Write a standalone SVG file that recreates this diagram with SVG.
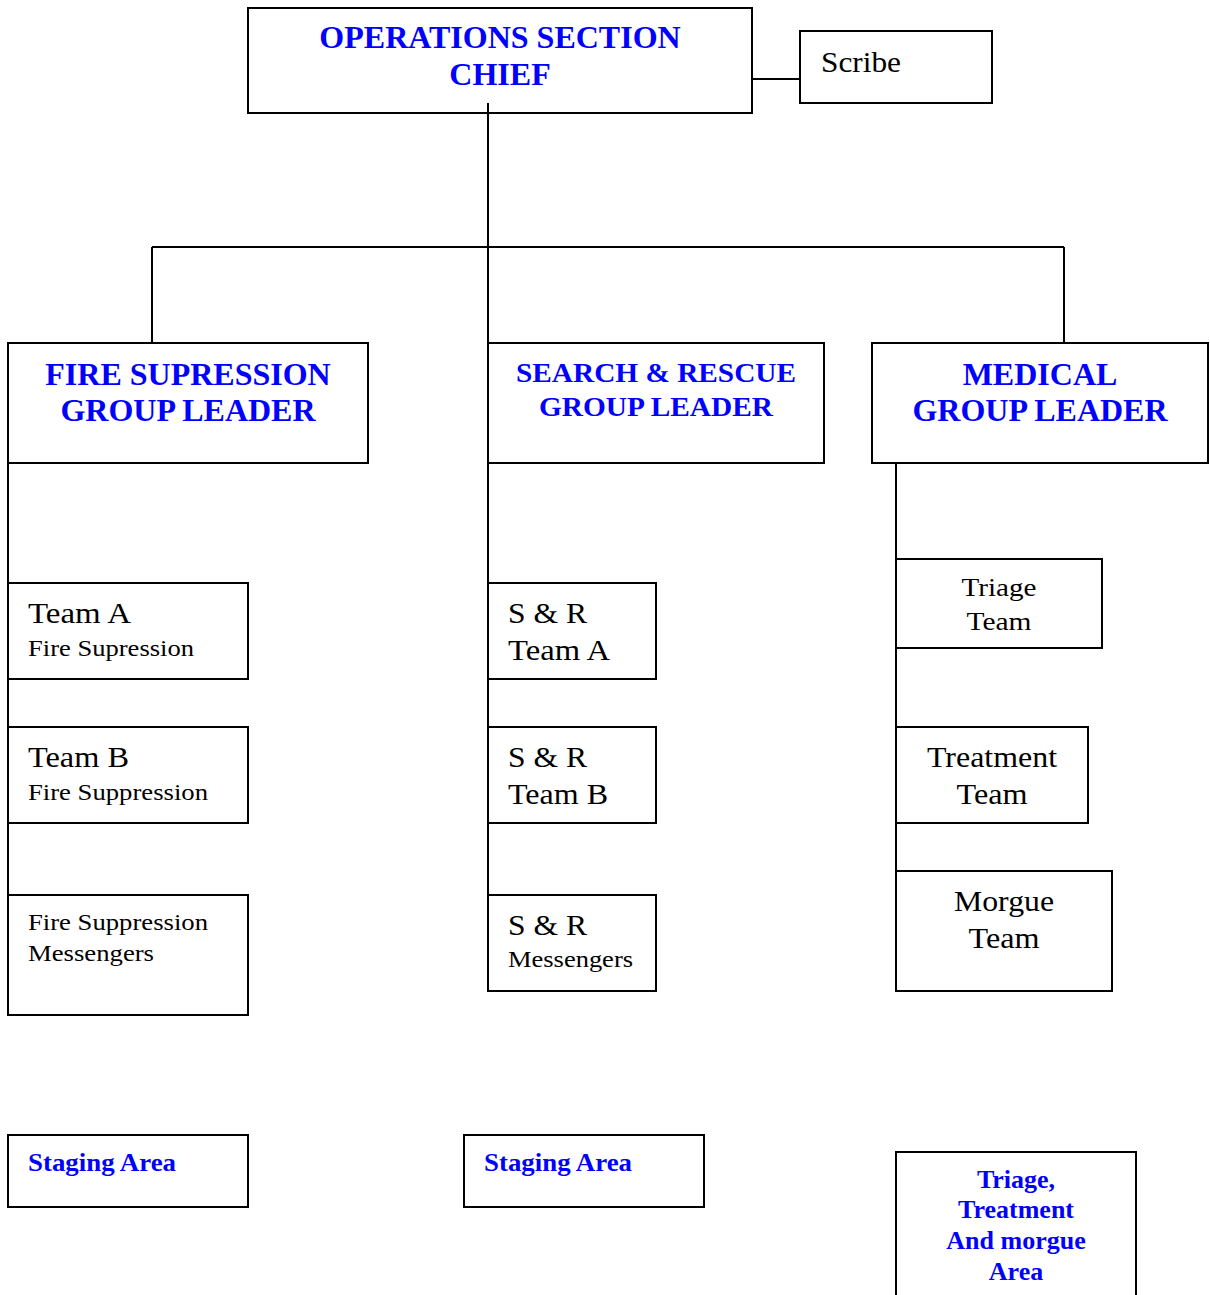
<svg xmlns="http://www.w3.org/2000/svg" width="1210" height="1295" viewBox="0 0 1210 1295">
<style>
.box{fill:#fff;stroke:#000;stroke-width:2}
.ln{stroke:#000;stroke-width:2;fill:none}
.h{font-family:"Liberation Serif",serif;font-weight:bold;fill:#0000FF}
.t{font-family:"Liberation Serif",serif;fill:#000}
.c{text-anchor:middle}
</style>
<rect width="1210" height="1295" fill="#fff"/>
<g id="connectors">
<line class="ln" x1="752" y1="79" x2="800" y2="79"/>
<line class="ln" x1="488" y1="103" x2="488" y2="343"/>
<line class="ln" x1="152" y1="247" x2="1064" y2="247"/>
<line class="ln" x1="152" y1="247" x2="152" y2="343"/>
<line class="ln" x1="1064" y1="247" x2="1064" y2="343"/>
<line class="ln" x1="8" y1="463" x2="8" y2="895"/>
<line class="ln" x1="488" y1="463" x2="488" y2="895"/>
<line class="ln" x1="896" y1="463" x2="896" y2="871"/>
</g>
<g id="ops">
<rect class="box" x="248" y="8" width="504" height="105"/>
<text class="h c" x="500" y="48" font-size="32">OPERATIONS SECTION</text>
<text class="h c" x="500" y="85" font-size="32">CHIEF</text>
</g>
<line class="ln" x1="488" y1="103" x2="488" y2="113"/>
<g id="scribe">
<rect class="box" x="800" y="31" width="192" height="72"/>
<text class="t" x="821" y="72" font-size="30" textLength="80" lengthAdjust="spacingAndGlyphs">Scribe</text>
</g>
<g id="fire">
<rect class="box" x="8" y="343" width="360" height="120"/>
<text class="h c" x="188" y="385" font-size="32">FIRE SUPRESSION</text>
<text class="h c" x="188" y="421" font-size="32">GROUP LEADER</text>
</g>
<g id="sr">
<rect class="box" x="488" y="343" width="336" height="120"/>
<text class="h c" x="656" y="382" font-size="28" textLength="280" lengthAdjust="spacingAndGlyphs">SEARCH &amp; RESCUE</text>
<text class="h c" x="656" y="416" font-size="28" textLength="234" lengthAdjust="spacingAndGlyphs">GROUP LEADER</text>
</g>
<g id="medical">
<rect class="box" x="872" y="343" width="336" height="120"/>
<text class="h c" x="1040" y="385" font-size="32">MEDICAL</text>
<text class="h c" x="1040" y="421" font-size="32">GROUP LEADER</text>
</g>
<g id="teamA">
<rect class="box" x="8" y="583" width="240" height="96"/>
<text class="t" x="28" y="623" font-size="30" textLength="103" lengthAdjust="spacingAndGlyphs">Team A</text>
<text class="t" x="28" y="656" font-size="24" textLength="166" lengthAdjust="spacingAndGlyphs">Fire Supression</text>
</g>
<g id="teamB">
<rect class="box" x="8" y="727" width="240" height="96"/>
<text class="t" x="28" y="767" font-size="30" textLength="101" lengthAdjust="spacingAndGlyphs">Team B</text>
<text class="t" x="28" y="800" font-size="24" textLength="180" lengthAdjust="spacingAndGlyphs">Fire Suppression</text>
</g>
<g id="fireMsg">
<rect class="box" x="8" y="895" width="240" height="120"/>
<text class="t" x="28" y="930" font-size="24" textLength="180" lengthAdjust="spacingAndGlyphs">Fire Suppression</text>
<text class="t" x="28" y="961" font-size="24" textLength="126" lengthAdjust="spacingAndGlyphs">Messengers</text>
</g>
<g id="srA">
<rect class="box" x="488" y="583" width="168" height="96"/>
<text class="t" x="508" y="623" font-size="30" textLength="79" lengthAdjust="spacingAndGlyphs">S &amp; R</text>
<text class="t" x="508" y="660" font-size="30" textLength="102" lengthAdjust="spacingAndGlyphs">Team A</text>
</g>
<g id="srB">
<rect class="box" x="488" y="727" width="168" height="96"/>
<text class="t" x="508" y="767" font-size="30" textLength="79" lengthAdjust="spacingAndGlyphs">S &amp; R</text>
<text class="t" x="508" y="804" font-size="30" textLength="100" lengthAdjust="spacingAndGlyphs">Team B</text>
</g>
<g id="srMsg">
<rect class="box" x="488" y="895" width="168" height="96"/>
<text class="t" x="508" y="935" font-size="30" textLength="79" lengthAdjust="spacingAndGlyphs">S &amp; R</text>
<text class="t" x="508" y="967" font-size="24" textLength="125" lengthAdjust="spacingAndGlyphs">Messengers</text>
</g>
<g id="triage">
<rect class="box" x="896" y="559" width="206" height="89"/>
<text class="t c" x="999" y="596" font-size="26" textLength="75" lengthAdjust="spacingAndGlyphs">Triage</text>
<text class="t c" x="999" y="630" font-size="26" textLength="65" lengthAdjust="spacingAndGlyphs">Team</text>
</g>
<g id="treatment">
<rect class="box" x="896" y="727" width="192" height="96"/>
<text class="t c" x="992" y="767" font-size="30" textLength="130" lengthAdjust="spacingAndGlyphs">Treatment</text>
<text class="t c" x="992" y="804" font-size="30" textLength="71" lengthAdjust="spacingAndGlyphs">Team</text>
</g>
<g id="morgue">
<rect class="box" x="896" y="871" width="216" height="120"/>
<text class="t c" x="1004" y="911" font-size="30" textLength="100" lengthAdjust="spacingAndGlyphs">Morgue</text>
<text class="t c" x="1004" y="948" font-size="30" textLength="71" lengthAdjust="spacingAndGlyphs">Team</text>
</g>
<g id="staging1">
<rect class="box" x="8" y="1135" width="240" height="72"/>
<text class="h" x="28" y="1171" font-size="26" textLength="148" lengthAdjust="spacingAndGlyphs">Staging Area</text>
</g>
<g id="staging2">
<rect class="box" x="464" y="1135" width="240" height="72"/>
<text class="h" x="484" y="1171" font-size="26" textLength="148" lengthAdjust="spacingAndGlyphs">Staging Area</text>
</g>
<g id="ttmArea">
<rect class="box" x="896" y="1152" width="240" height="150"/>
<text class="h c" x="1016" y="1188" font-size="26">Triage,</text>
<text class="h c" x="1016" y="1218" font-size="26">Treatment</text>
<text class="h c" x="1016" y="1249" font-size="26">And morgue</text>
<text class="h c" x="1016" y="1280" font-size="26">Area</text>
</g>
</svg>
